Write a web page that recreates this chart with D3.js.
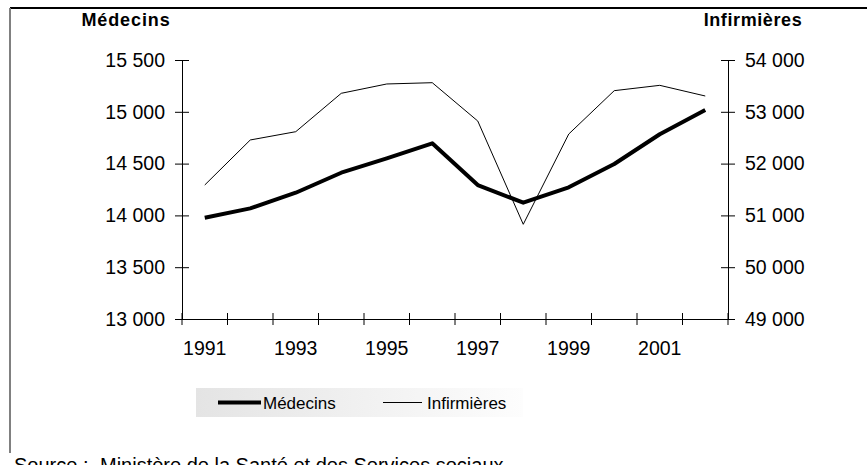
<!DOCTYPE html>
<html>
<head>
<meta charset="utf-8">
<script src="https://cdn.jsdelivr.net/npm/d3@7"></script>
<style>
  body { margin: 0; background: #fff; }
  svg { display: block; font-family: "Liberation Sans", Arial, sans-serif; }
</style>
</head>
<body>
<div id="chart"></div>
<script>
var years = [1991, 1992, 1993, 1994, 1995, 1996, 1997, 1998, 1999, 2000, 2001, 2002];
var medecins = [13978, 14068, 14219, 14412, 14551, 14696, 14293, 14123, 14271, 14496, 14783, 15017];
var infirmieres = [51587, 52456, 52616, 53357, 53537, 53562, 52822, 50828, 52571, 53408, 53511, 53305];
var leftTicks = [13000, 13500, 14000, 14500, 15000, 15500];
var rightTicks = [49000, 50000, 51000, 52000, 53000, 54000];
var yearLabels = [1991, 1993, 1995, 1997, 1999, 2001];

var width = 867,
  height = 465;

var svg = d3.select("#chart").append("svg")
  .attr("width", width)
  .attr("height", height);

var fr = d3.formatLocale({decimal: ",", thousands: " ", grouping: [3], currency: ["", ""]});
var fmt = fr.format(",d");

var x = d3.scaleBand().domain(years).range([182, 728]).padding(0);
var yL = d3.scaleLinear().domain([13000, 15500]).range([319, 60]);
var yR = d3.scaleLinear().domain([49000, 54000]).range([319, 60]);

// frame
svg.append("line").attr("x1", 10).attr("x2", width).attr("y1", 8).attr("y2", 8)
  .attr("stroke", "#000").attr("stroke-width", 2);
svg.append("line").attr("x1", 10).attr("x2", 10).attr("y1", 8).attr("y2", 453)
  .attr("stroke", "#808080").attr("stroke-width", 2);

// left axis
var gL = svg.append("g").attr("transform", "translate(182,0)")
  .call(d3.axisLeft(yL).tickValues(leftTicks).tickFormat(fmt).tickSize(7).tickPadding(10));
gL.selectAll(".tick line").attr("x1", 7);

// right axis
var gR = svg.append("g").attr("transform", "translate(728,0)")
  .call(d3.axisRight(yR).tickValues(rightTicks).tickFormat(fmt).tickSize(7).tickPadding(10));
gR.selectAll(".tick line").attr("x1", -7);

// bottom axis
var gB = svg.append("g").attr("transform", "translate(0,319)")
  .call(d3.axisBottom(x).tickValues(yearLabels).tickSize(0).tickSizeOuter(0).tickPadding(22));
gB.selectAll(".tick line").remove();

var bounds = years.map(function(d) { return x(d); }).concat([x.range()[1]]);
gB.selectAll(".xt").data(bounds).enter().append("line")
  .attr("class", "xt")
  .attr("x1", function(d) { return d; })
  .attr("x2", function(d) { return d; })
  .attr("y1", -6).attr("y2", 6)
  .attr("stroke", "#000");

svg.selectAll(".domain").attr("stroke", "#000");
svg.selectAll(".tick text").attr("font-size", 19.5).attr("fill", "#000")
  .attr("font-family", "'Liberation Sans', Arial, sans-serif");

// axis titles
svg.append("text").attr("x", 126).attr("y", 26).attr("text-anchor", "middle")
  .attr("font-size", 18).attr("font-weight", "bold").attr("letter-spacing", 0.9)
  .text("Médecins");
svg.append("text").attr("x", 753).attr("y", 26).attr("text-anchor", "middle")
  .attr("font-size", 18).attr("font-weight", "bold").attr("letter-spacing", 0.6)
  .text("Infirmières");

// lines
var cx = function(d, i) { return x(years[i]) + x.bandwidth() / 2; };

svg.append("path")
  .datum(infirmieres)
  .attr("fill", "none").attr("stroke", "#000").attr("stroke-width", 1)
  .attr("d", d3.line().x(cx).y(function(d) { return yR(d); }));

svg.append("path")
  .datum(medecins)
  .attr("fill", "none").attr("stroke", "#000").attr("stroke-width", 4)
  .attr("stroke-linejoin", "round")
  .attr("d", d3.line().x(cx).y(function(d) { return yL(d); }));

// legend
var defs = svg.append("defs");
var grad = defs.append("linearGradient").attr("id", "lg");
grad.append("stop").attr("offset", "0%").attr("stop-color", "#e4e4e4");
grad.append("stop").attr("offset", "100%").attr("stop-color", "#fdfdfd");

var leg = svg.append("g");
leg.append("rect").attr("x", 196).attr("y", 388).attr("width", 327).attr("height", 29)
  .attr("fill", "url(#lg)");
leg.append("line").attr("x1", 218).attr("x2", 261).attr("y1", 402.5).attr("y2", 402.5)
  .attr("stroke", "#000").attr("stroke-width", 4);
leg.append("text").attr("x", 263).attr("y", 409).attr("font-size", 17).text("Médecins");
leg.append("line").attr("x1", 383).attr("x2", 422).attr("y1", 402.5).attr("y2", 402.5)
  .attr("stroke", "#000").attr("stroke-width", 1);
leg.append("text").attr("x", 427).attr("y", 409).attr("font-size", 17).text("Infirmières");

// source (cut at the bottom edge, as in the original)
svg.append("text").attr("x", 14).attr("y", 472).attr("font-size", 20).text("Source :");
svg.append("text").attr("x", 100).attr("y", 472).attr("font-size", 20)
  .text("Ministère de la Santé et des Services sociaux");
</script>
</body>
</html>
